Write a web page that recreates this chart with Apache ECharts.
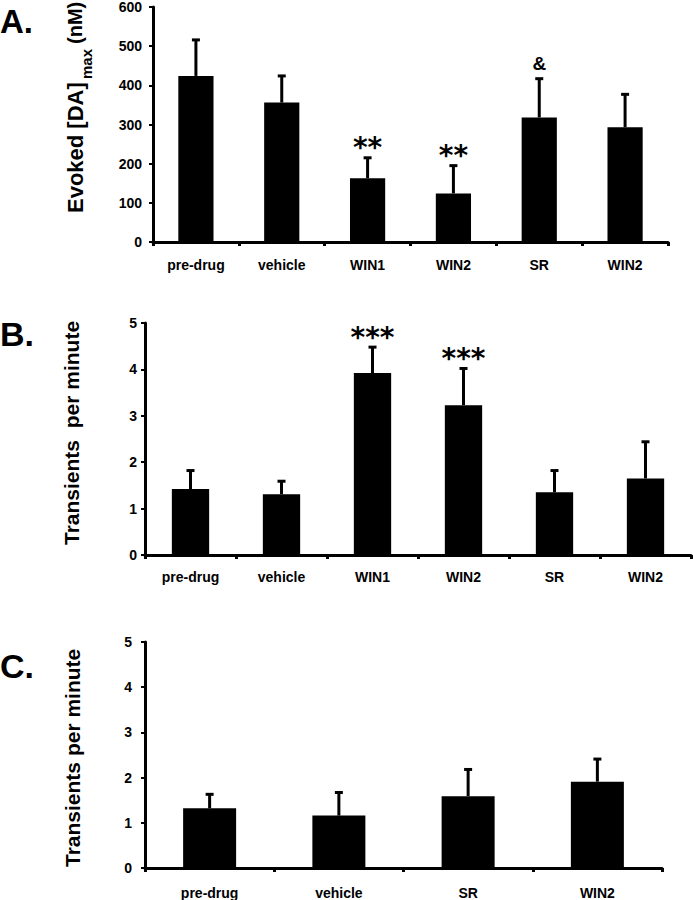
<!DOCTYPE html>
<html>
<head>
<meta charset="utf-8">
<script src="https://cdn.jsdelivr.net/npm/echarts@6/dist/echarts.min.js"></script>
<style>
html,body{margin:0;padding:0;background:#fff;}
#chart{width:693px;height:900px;}
</style>
</head>
<body>
<div id="chart"></div>
<script>
// ---- data ----
const catsA = ['pre-drug', 'vehicle', 'WIN1', 'WIN2', 'SR', 'WIN2'];
const meanA = [424, 356, 163, 124, 318, 293];
const semA  = [92, 68, 52, 71, 99, 84];
const sigA  = ['', '', '**', '**', '&', ''];
const ticksA = [0, 100, 200, 300, 400, 500, 600];

const catsB = ['pre-drug', 'vehicle', 'WIN1', 'WIN2', 'SR', 'WIN2'];
const meanB = [1.42, 1.31, 3.92, 3.23, 1.35, 1.65];
const semB  = [0.40, 0.28, 0.56, 0.79, 0.47, 0.79];
const sigB  = ['', '', '***', '***', '', ''];

const catsC = ['pre-drug', 'vehicle', 'SR', 'WIN2'];
const meanC = [1.32, 1.16, 1.59, 1.91];
const semC  = [0.31, 0.51, 0.59, 0.50];
const sigC  = ['', '', '', ''];
const ticksBC = [0, 1, 2, 3, 4, 5];

const panelLetters = ['A.', 'B.', 'C.'];
const titleA = ['Evoked [DA]', 'max', '(nM)'];
const titleB = 'Transients  per minute';
const titleC = 'Transients per minute';

// ---- styles ----
const FONT = '"Liberation Sans", Arial, sans-serif';
const sigStyle = {
  '**':  {font: 'bold 28px "DejaVu Sans", sans-serif', dy: -10},
  '***': {font: 'bold 28px "DejaVu Sans", sans-serif', dy: -10},
  '&':   {font: 'bold 19px "Liberation Sans", Arial, sans-serif', dy: -15}
};

function errRender(sigs) {
  return function (params, api) {
    const i = api.value(0);
    const m = api.value(1);
    const t = api.value(2);
    const p0 = api.coord([i, m]);
    const p1 = api.coord([i, t]);
    const children = [
      {type: 'line', shape: {x1: p0[0], y1: p0[1], x2: p1[0], y2: p1[1]},
       style: {stroke: '#000', lineWidth: 3}},
      {type: 'rect', shape: {x: p1[0] - 4, y: p1[1] - 1.5, width: 8, height: 3},
       style: {fill: '#000'}}
    ];
    const s = sigs[i];
    if (s) {
      const st = sigStyle[s];
      children.push({type: 'text', x: p1[0], y: p1[1] + st.dy,
        style: {text: s, font: st.font, fill: '#000', align: 'center', verticalAlign: 'middle'}});
    }
    return {type: 'group', children: children};
  };
}

function xAxisCfg(grid, cats, margin) {
  return {
    type: 'category', gridIndex: grid, data: cats, boundaryGap: true,
    axisLine: {show: true, lineStyle: {color: '#000', width: 3}},
    axisTick: {show: true, alignWithLabel: false, length: 4, lineStyle: {color: '#000', width: 3}},
    axisLabel: {color: '#000', fontFamily: FONT, fontWeight: 'bold', fontSize: 14, margin: margin, interval: 0},
    splitLine: {show: false}
  };
}
function yAxisCfg(grid, ticks, margin) {
  return {
    type: 'value', gridIndex: grid, min: ticks[0], max: ticks[ticks.length - 1],
    interval: ticks[1] - ticks[0],
    axisLine: {show: true, lineStyle: {color: '#000', width: 3}},
    axisTick: {show: true, length: 4, lineStyle: {color: '#000', width: 2}},
    axisLabel: {color: '#000', fontFamily: FONT, fontWeight: 'bold', fontSize: 14, margin: margin},
    splitLine: {show: false}
  };
}
function barSeries(idx, vals) {
  return {type: 'bar', xAxisIndex: idx, yAxisIndex: idx, data: vals, barWidth: '41%',
          itemStyle: {color: '#000'}, silent: true, animation: false};
}
function errSeries(idx, means, sems, sigs) {
  return {type: 'custom', xAxisIndex: idx, yAxisIndex: idx, silent: true, animation: false,
          renderItem: errRender(sigs), encode: {x: 0, y: [1, 2]},
          data: means.map((m, i) => [i, m, m + sems[i]]), z: 3};
}

function vText(x, y, text, size) {
  return {type: 'text', x: x, y: y, rotation: Math.PI / 2,
          style: {text: text, font: 'bold ' + size + 'px ' + FONT, fill: '#000',
                  align: 'left', verticalAlign: 'middle'}};
}
function letter(x, y, text, size) {
  return {type: 'text', x: x, y: y,
          style: {text: text, font: 'bold ' + size + 'px ' + FONT, fill: '#000',
                  align: 'left', verticalAlign: 'middle'}};
}

const chart = echarts.init(document.getElementById('chart'), null, {renderer: 'svg', width: 693, height: 900});
chart.setOption({
  animation: false,
  backgroundColor: '#fff',
  grid: [
    {left: 153, right: 25, top: 7, bottom: 658, containLabel: false},
    {left: 145, right: 2, top: 323, bottom: 345, containLabel: false},
    {left: 145, right: 31, top: 642, bottom: 32, containLabel: false}
  ],
  xAxis: [xAxisCfg(0, catsA, 16), xAxisCfg(1, catsB, 15), xAxisCfg(2, catsC, 18)],
  yAxis: [yAxisCfg(0, ticksA, 11), yAxisCfg(1, ticksBC, 8), yAxisCfg(2, ticksBC, 13)],
  series: [
    barSeries(0, meanA), errSeries(0, meanA, semA, sigA),
    barSeries(1, meanB), errSeries(1, meanB, semB, sigB),
    barSeries(2, meanC), errSeries(2, meanC, semC, sigC)
  ],
  graphic: [
    letter(0, 21, panelLetters[0], 33),
    letter(0, 334, panelLetters[1], 34),
    letter(0, 666, panelLetters[2], 34),
    vText(75, 213, titleA[0], 22),
    vText(86, 79, titleA[1], 15),
    vText(75, 44, titleA[2], 20),
    vText(71, 545, titleB, 21),
    vText(72, 867, titleC, 21)
  ]
});
</script>
</body>
</html>
